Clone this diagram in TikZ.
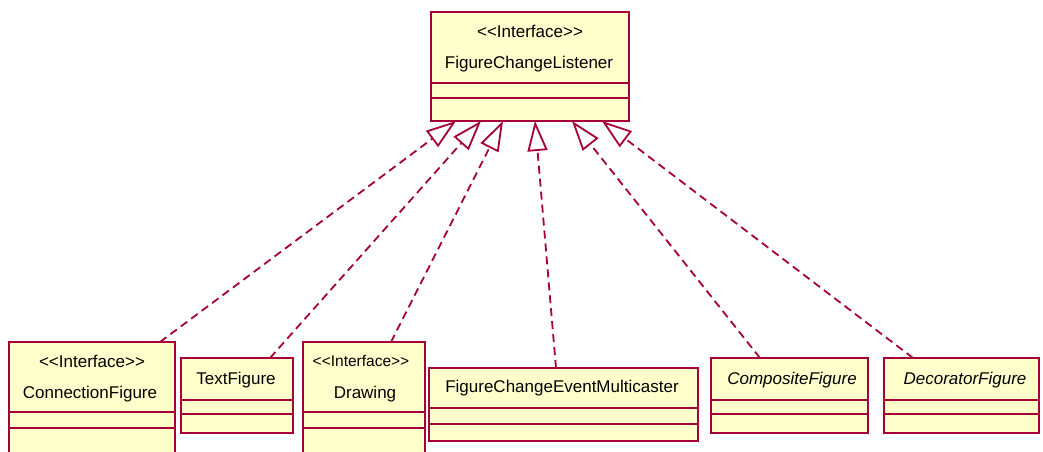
\documentclass[tikz,border=0pt]{standalone}
\usepackage{fontspec}
\setmainfont{Liberation Sans}
\usetikzlibrary{arrows.meta,fit}
\definecolor{umlred}{RGB}{165,0,55}
\definecolor{umlfill}{RGB}{255,255,204}
\newcommand\stereoopen{<\kern0pt<}
\newcommand\stereoclose{>\kern0pt>}
\tikzset{
  cls/.style={draw=umlred, fill=umlfill, line width=2pt, inner sep=0pt, outer sep=0pt},
  sepline/.style={draw=umlred, line width=2pt},
  txt/.style={inner sep=0pt, anchor=base, font=\fontsize{17}{20}\selectfont, text=black},
  smalltxt/.style={txt, font=\fontsize{15.5}{18}\selectfont},
  dep/.style={draw=umlred, line width=1.8pt, dash pattern=on 8pt off 5pt,
    -{Triangle[open, length=30pt, width=20pt, line width=1.8pt]}}
}
\newcommand\umlcls[7]{%
  \node[cls, fit={(#2,#3) (#4,#5)}] (#1) {};
  \draw[sepline] (#1.west |- 0,#6) -- (#1.east |- 0,#6);
  \draw[sepline] (#1.west |- 0,#7) -- (#1.east |- 0,#7);
}
\begin{document}
\begin{tikzpicture}[x=1pt,y=-1pt]
\path[use as bounding box] (0,0) rectangle (1043,451);
\clip (0,0) rectangle (1043,451);

% classes
\umlcls{fcl}{431}{12}{629}{121}{83}{98}
\node[txt] (fclst) at (530,37) {\stereoopen Interface\stereoclose};
\node[txt] (fclname) at (529,68) {FigureChangeListener};

\umlcls{cf}{9}{342}{175}{470}{412}{428}
\node[txt] (cfst) at (92,367) {\stereoopen Interface\stereoclose};
\node[txt] (cfname) at (90,398) {ConnectionFigure};

\umlcls{tf}{181}{358}{293}{433}{400}{414}
\node[txt] (tfname) at (236,384) {TextFigure};

\umlcls{dr}{303}{342}{425}{470}{412}{428}
\node[smalltxt] (drst) at (361,366) {\stereoopen Interface\stereoclose};
\node[txt] (drname) at (365,398) {Drawing};

\umlcls{fcem}{429}{368}{698}{441}{408}{424}
\node[txt] (fcemname) at (562,392) {FigureChangeEventMulticaster};

\umlcls{comp}{711}{358}{868}{433}{400}{414}
\node[txt] (compname) at (792,384) {\itshape CompositeFigure};

\umlcls{deco}{884}{358}{1039}{433}{400}{414}
\node[txt] (deconame) at (965,384) {\itshape DecoratorFigure};

% realizations
\draw[dep] (cf.north -| 160,0) -- (fcl.south -| 456,0);
\draw[dep] (tf.north -| 270,0) -- (fcl.south -| 481,0);
\draw[dep] (dr.north -| 391,0) -- (fcl.south -| 503,0);
\draw[dep] (fcem.north -| 556,0) -- (fcl.south -| 535,0);
\draw[dep] (comp.north -| 760,0) -- (fcl.south -| 572,0);
\draw[dep] (deco.north -| 913,0) -- (fcl.south -| 602,0);
\end{tikzpicture}
\end{document}
